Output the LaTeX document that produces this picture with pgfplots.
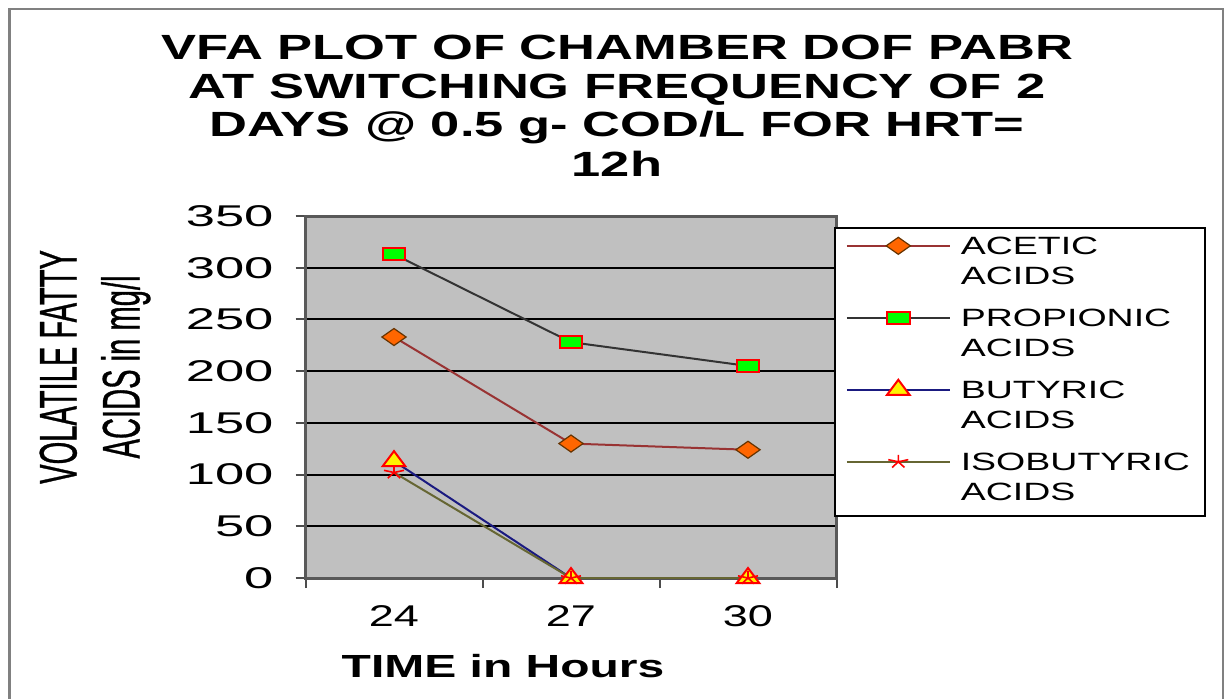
\documentclass[border=0pt]{standalone}
\usepackage{pgfplots}
\pgfplotsset{compat=1.18}
\usepackage{fontspec}
\setmainfont{Liberation Sans}
\newfontfamily\wide{Liberation Sans}[FakeStretch=1.5]
\newfontfamily\wider{Liberation Sans}[FakeStretch=1.75]
\newfontfamily\narrow{Liberation Sans}[FakeStretch=0.55, FakeBold=0.6]
\definecolor{plotbg}{HTML}{C0C0C0}
\definecolor{acetic}{HTML}{993333}
\definecolor{aceticfill}{HTML}{FF6600}
\definecolor{aceticdraw}{HTML}{663300}
\definecolor{propline}{HTML}{333333}
\definecolor{butline}{HTML}{1A1A80}
\definecolor{isoline}{HTML}{666633}
\newcommand\legtext[2]{\vtop{\hbox{\strut #1}\hbox{\strut #2}}}
\begin{document}
\begin{tikzpicture}
\useasboundingbox (0,0) rectangle (613pt,349pt);
\fill[white] (0,0) rectangle (613pt,349pt);
\draw[gray, line width=1.2pt] (4.75pt,-1pt) -- (4.75pt,344.5pt) -- (611.5pt,344.5pt) -- (611.5pt,-1pt);
\begin{scope}[font=\wide\bfseries\fontsize{17.5}{19.25}\selectfont]
\node[anchor=base] at (308.5pt,319.5pt) {VFA PLOT OF CHAMBER DOF PABR};
\node[anchor=base] at (308.5pt,300pt) {AT SWITCHING FREQUENCY OF 2};
\node[anchor=base] at (308.5pt,280.5pt) {DAYS @ 0.5 g- COD/L FOR HRT=};
\node[anchor=base] at (308.5pt,260.75pt) {12h};
\end{scope}
\begin{axis}[
  at={(152.75pt,60pt)}, anchor=south west,
  scale only axis, width=265.5pt, height=181pt,
  xmin=-0.5, xmax=2.5, ymin=0, ymax=350,
  clip=false,
  axis background/.style={fill=plotbg},
  axis line style={draw=black!65, line width=1.5pt},
  tick align=outside, tick pos=left,
  xtick={-0.5,0.5,1.5,2.5}, xticklabels={},
  extra x ticks={0,1,2}, extra x tick labels={24,27,30},
  extra x tick style={major tick length=0pt, grid=none},
  ytick={0,50,...,350},
  ymajorgrids=true,
  major grid style={black, line width=1pt},
  major tick length=5pt,
  tick style={black!70, line width=1pt},
  xticklabel style={font=\wide\fontsize{15}{18}\selectfont, yshift=-10pt},
  yticklabel style={font=\wider\fontsize{15}{18}\selectfont, xshift=-7.5pt},
  /pgf/number format/assume math mode=true,
  xlabel={TIME in Hours},
  xlabel style={at={(axis description cs:0.372,-0.243)}, anchor=center, font=\wide\bfseries\fontsize{16}{19}\selectfont},
  ylabel={VOLATILE FATTY\\ACIDS in mg/l},
  ylabel style={at={(axis description cs:-0.3964,0.583)}, anchor=center, align=center, font=\narrow\fontsize{26.5}{31.5}\selectfont},
  legend image code/.code={\draw[mark repeat=2,mark phase=2,#1] plot coordinates {(0pt,4.5pt) (25.75pt,4.5pt) (51.5pt,4.5pt)};},
  legend style={at={(0.9953,0.9696)}, anchor=north west, draw=black, line width=0.8pt, fill=white,
    inner xsep=5.5pt, inner ysep=1pt, row sep=2pt, column sep=3pt,
    font=\wide\fontsize{12.5}{15}\selectfont,
    cells={anchor=base west}, nodes={inner sep=2pt, text depth=}},
]
\addplot[color=acetic, line width=1pt, mark=diamond*, mark size=4.25pt,
  mark options={fill=aceticfill, draw=aceticdraw, line width=0.6pt, xscale=1.9}]
  coordinates {(0,233) (1,130) (2,124)};
\addlegendentry{\legtext{ACETIC}{ACIDS}}
\addplot[color=propline, line width=1pt, mark=square*, mark size=3pt,
  mark options={fill=green, draw=red, line width=1pt, xscale=1.9}]
  coordinates {(0,313) (1,228) (2,205)};
\addlegendentry{\legtext{PROPIONIC}{ACIDS}}
\addplot[color=butline, line width=1pt, mark=triangle*, mark size=5pt,
  mark options={fill=yellow, draw=red, line width=1pt, xscale=1.3}]
  coordinates {(0,113) (1,0) (2,0)};
\addlegendentry{\legtext{BUTYRIC}{ACIDS}}
\addplot[color=isoline, line width=1pt, mark=star, mark size=3.5pt,
  mark options={draw=red, line width=0.8pt, xscale=1.5}]
  coordinates {(0,102) (1,0) (2,0)};
\addlegendentry{\legtext{ISOBUTYRIC}{ACIDS}}
\end{axis}
\end{tikzpicture}
\end{document}
